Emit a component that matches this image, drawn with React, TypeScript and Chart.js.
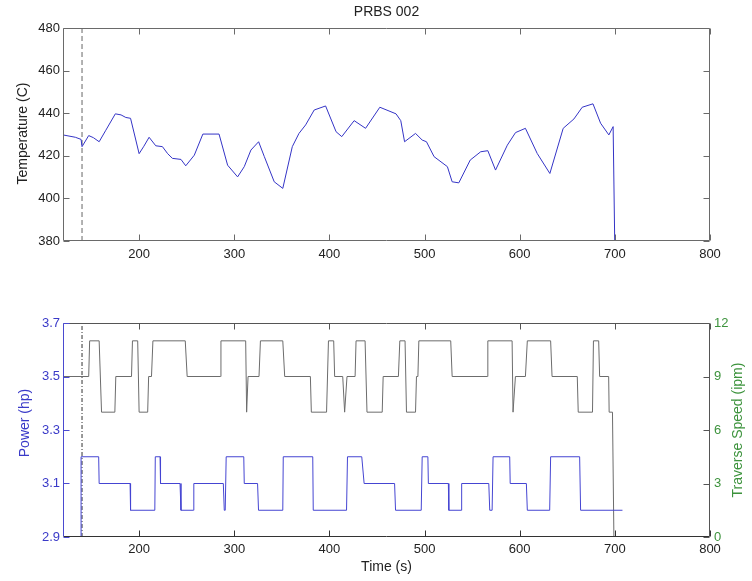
import React, { useEffect, useRef } from 'react';
import Chart from 'chart.js/auto';

// ---------- data ----------
const xTicks = [200, 300, 400, 500, 600, 700, 800];
const tempTicks = [380, 400, 420, 440, 460, 480];
const powerTicks = [2.9, 3.1, 3.3, 3.5, 3.7];
const speedTicks = [0, 3, 6, 9, 12];
const markerTime = 140;

const tempTime = [120, 133, 139, 140, 147, 152, 158, 165, 175, 181, 186, 191, 200, 205, 210.5, 217.5, 224.5, 230, 235, 244, 249, 258, 267, 284, 293, 303.5, 310.5, 317.5, 325.6, 331.6, 342, 351, 361, 368, 375, 384, 396, 407, 413, 426, 438, 453, 470, 475, 479, 490.5, 497.5, 502, 510, 524, 529, 536, 548, 559, 566.5, 574.6, 587, 595.6, 606, 618.4, 631.7, 645.7, 657, 665.7, 677, 685, 693.7, 698.2, 700];
const tempValue = [429.8, 428.7, 427.7, 424.3, 429.5, 428.5, 426.6, 432, 439.7, 439.2, 438, 437.6, 421, 424.5, 428.7, 424.7, 424.3, 421, 418.8, 418.3, 415.3, 420.3, 430.2, 430.2, 415.6, 410.1, 414.9, 422.7, 426.6, 419.6, 407.8, 404.7, 424.3, 430.5, 434.5, 441.5, 443.4, 431.3, 429, 436.5, 432.9, 442.8, 439.7, 436.5, 426.6, 430.5, 427.4, 426.6, 419.6, 414.9, 407.8, 407.3, 418, 421.9, 422.4, 413.3, 425, 430.9, 432.9, 421.1, 411.7, 432.9, 437.3, 442.8, 444.4, 435.3, 429.8, 433.7, 375];

const powerTime = [139, 139, 157.5, 158, 190.5, 191, 216.5, 217, 222, 222.5, 243, 244, 257, 257.5, 288.5, 289.5, 290.5, 291.5, 310, 310.5, 324.5, 325.5, 351, 351.5, 382.5, 383, 418, 419, 434, 436.5, 468.5, 469.5, 496.5, 497.5, 503.5, 504, 525, 525.5, 538.5, 539, 567.5, 568.5, 571, 572, 589.5, 590, 607, 608, 631.5, 632.5, 663, 664, 708];
const powerValue = [2.9, 3.2, 3.2, 3.1, 3.1, 3.0, 3.0, 3.2, 3.2, 3.1, 3.1, 3.0, 3.0, 3.1, 3.1, 3.0, 3.0, 3.2, 3.2, 3.1, 3.1, 3.0, 3.0, 3.2, 3.2, 3.0, 3.0, 3.2, 3.2, 3.1, 3.1, 3.0, 3.0, 3.2, 3.2, 3.1, 3.1, 3.0, 3.0, 3.1, 3.1, 3.0, 3.0, 3.2, 3.2, 3.1, 3.1, 3.0, 3.0, 3.2, 3.2, 3.0, 3.0];

const speedTime = [120, 147, 148, 158, 160.5, 174.5, 175.5, 192, 193, 198.5, 200, 209, 210, 213, 214.5, 248.5, 250.5, 285.5, 286, 312, 313, 314.5, 326, 327.5, 351, 353, 380, 381, 397, 399, 404.5, 405.5, 414, 416, 418.5, 427, 428, 437.5, 439.5, 455.5, 456.5, 472.5, 474, 479.5, 481, 490.5, 491.5, 493, 494, 527.5, 529, 566, 566.5, 592, 593, 594, 595.5, 606, 608, 632.5, 634, 660.5, 661.5, 676.5, 677.5, 683, 684, 693.5, 694, 697.5, 699];
const speedValue = [9, 9, 11, 11, 7, 7, 9, 9, 11, 11, 7, 7, 9, 9, 11, 11, 9, 9, 11, 11, 7, 9, 9, 11, 11, 9, 9, 7, 7, 11, 11, 9, 9, 7, 9, 9, 11, 11, 7, 7, 9, 9, 11, 11, 7, 7, 9, 9, 11, 11, 9, 9, 11, 11, 7, 7, 9, 9, 11, 11, 9, 9, 7, 7, 11, 11, 9, 9, 7, 7, 0];

// ---------- helpers ----------
const FONT = "'Liberation Sans', Arial, Helvetica, sans-serif";
const pts = (xs: number[], ys: number[]) => xs.map((x, i) => ({ x, y: ys[i] }));
const fixTicks = (vals: number[]) => (scale: any) => {
  scale.ticks = vals.map((v) => ({ value: v }));
};

type Side = { scaleId: string; color: string; ticks: boolean };
type VText = { text: string; x: number; dy: number; color: string };
const makeFrame = (
  sides: { top: Side; bottom: Side; left: Side; right: Side },
  title?: string,
  vtexts: VText[] = []
) => ({
  id: 'frame',
  afterDraw(chart: any) {
    const { ctx } = chart;
    const a = chart.chartArea;
    const L = Math.round(a.left) + 0.5;
    const R = Math.round(a.right) - 0.5;
    const T = Math.round(a.top) + 0.5;
    const B = Math.round(a.bottom) - 0.5;
    const tl = 6;
    ctx.save();
    ctx.lineWidth = 1;
    ctx.setLineDash([]);
    const line = (x1: number, y1: number, x2: number, y2: number, c: string) => {
      ctx.strokeStyle = c;
      ctx.beginPath();
      ctx.moveTo(x1, y1);
      ctx.lineTo(x2, y2);
      ctx.stroke();
    };
    line(L, T, R, T, sides.top.color);
    line(L, B, R, B, sides.bottom.color);
    line(L, T, L, B, sides.left.color);
    line(R, T, R, B, sides.right.color);
    const hs = chart.scales[sides.top.scaleId];
    (hs.ticks || []).forEach((t: any) => {
      const x = Math.round(hs.getPixelForValue(t.value)) + 0.5;
      if (sides.top.ticks) line(x, T, x, T + tl, sides.top.color);
      if (sides.bottom.ticks) line(x, B, x, B - tl, sides.bottom.color);
    });
    if (sides.left.ticks) {
      const s = chart.scales[sides.left.scaleId];
      s.ticks.forEach((t: any) => {
        const y = Math.round(s.getPixelForValue(t.value)) + 0.5;
        line(L, y, L + tl, y, sides.left.color);
      });
    }
    if (sides.right.ticks) {
      const s = chart.scales[sides.right.scaleId];
      s.ticks.forEach((t: any) => {
        const y = Math.round(s.getPixelForValue(t.value)) + 0.5;
        line(R, y, R - tl, y, sides.right.color);
      });
    }
    ctx.font = `14px ${FONT}`;
    ctx.textAlign = 'center';
    ctx.textBaseline = 'middle';
    if (title) {
      ctx.fillStyle = '#222';
      ctx.fillText(title, (a.left + a.right) / 2, 12);
    }
    vtexts.forEach((v) => {
      ctx.save();
      ctx.translate(v.x, (a.top + a.bottom) / 2 + v.dy);
      ctx.rotate(-Math.PI / 2);
      ctx.fillStyle = v.color;
      ctx.fillText(v.text, 0, 0);
      ctx.restore();
    });
    ctx.restore();
  },
});

function TopChart() {
  const ref = useRef<HTMLCanvasElement>(null);
  useEffect(() => {
    const frameColor = '#6a6a6a';
    const chart = new Chart(ref.current!, {
      type: 'line',
      data: {
        datasets: [
          {
            data: pts(tempTime, tempValue),
            borderColor: '#3434c6',
            borderWidth: 1,
            pointRadius: 0,
            tension: 0,
          },
          {
            data: [
              { x: markerTime, y: 380 },
              { x: markerTime, y: 480 },
            ],
            borderColor: '#666',
            borderWidth: 1,
            borderDash: [5, 3],
            pointRadius: 0,
          },
        ],
      },
      options: {
        animation: false,
        responsive: false,
        events: [],
        layout: { padding: { left: 0, right: 42, top: 28, bottom: 0 } },
        plugins: { legend: { display: false }, tooltip: { enabled: false } },
        scales: {
          x: {
            type: 'linear',
            min: 120,
            max: 800,
            afterBuildTicks: fixTicks(xTicks),
            afterFit: (s: any) => {
              s.height = 39;
            },
            grid: { display: false, drawTicks: false },
            border: { display: false },
            ticks: { padding: 6, color: '#222', font: { size: 13, family: FONT }, maxRotation: 0, autoSkip: false },
          },
          y: {
            type: 'linear',
            min: 380,
            max: 480,
            afterBuildTicks: fixTicks(tempTicks),
            afterFit: (s: any) => {
              s.width = 63;
            },
            grid: { display: false, drawTicks: false },
            border: { display: false },
            ticks: { padding: 3, color: '#222', font: { size: 13, family: FONT } },
          },
        },
      },
      plugins: [
        makeFrame(
          {
            top: { scaleId: 'x', color: frameColor, ticks: true },
            bottom: { scaleId: 'x', color: frameColor, ticks: true },
            left: { scaleId: 'y', color: frameColor, ticks: true },
            right: { scaleId: 'y', color: frameColor, ticks: true },
          },
          'PRBS 002',
          [{ text: 'Temperature (C)', x: 23, dy: -1, color: '#222' }]
        ),
      ],
    } as any);
    return () => chart.destroy();
  }, []);
  return <canvas ref={ref} width={752} height={280} style={{ position: 'absolute', left: 0, top: 0, width: 752, height: 280 }} />;
}

function BottomChart() {
  const ref = useRef<HTMLCanvasElement>(null);
  useEffect(() => {
    const dark = '#555';
    const blue = '#3a3ac8';
    const green = '#3d933d';
    const chart = new Chart(ref.current!, {
      type: 'line',
      data: {
        datasets: [
          {
            data: pts(powerTime, powerValue),
            yAxisID: 'y',
            borderColor: '#4545d2',
            borderWidth: 1,
            pointRadius: 0,
            tension: 0,
          },
          {
            data: pts(speedTime, speedValue),
            yAxisID: 'y1',
            borderColor: '#6c6c6c',
            borderWidth: 1,
            pointRadius: 0,
            tension: 0,
          },
          {
            data: [
              { x: markerTime, y: 2.9 },
              { x: markerTime, y: 3.7 },
            ],
            yAxisID: 'y',
            borderColor: '#333',
            borderWidth: 1,
            borderDash: [4, 2, 1, 2],
            pointRadius: 0,
          },
        ],
      },
      options: {
        animation: false,
        responsive: false,
        events: [],
        layout: { padding: { left: 0, right: 0, top: 43, bottom: 0 } },
        plugins: { legend: { display: false }, tooltip: { enabled: false } },
        scales: {
          x: {
            type: 'linear',
            min: 120,
            max: 800,
            afterBuildTicks: fixTicks(xTicks),
            afterFit: (s: any) => {
              s.height = 44;
            },
            grid: { display: false, drawTicks: false },
            border: { display: false },
            ticks: { padding: 5, color: '#222', font: { size: 13, family: FONT }, maxRotation: 0, autoSkip: false },
            title: {
              display: true,
              text: 'Time (s)',
              color: '#222',
              font: { size: 14, family: FONT },
              padding: { top: 0, bottom: 5.6 },
            },
          },
          y: {
            type: 'linear',
            position: 'left',
            min: 2.9,
            max: 3.7,
            afterBuildTicks: fixTicks(powerTicks),
            afterFit: (s: any) => {
              s.width = 63;
            },
            grid: { display: false, drawTicks: false },
            border: { display: false },
            ticks: {
              padding: 3,
              color: blue,
              font: { size: 13, family: FONT },
              callback: (v: any) => Number(v).toFixed(1),
            },
          },
          y1: {
            type: 'linear',
            position: 'right',
            min: 0,
            max: 12,
            afterBuildTicks: fixTicks(speedTicks),
            afterFit: (s: any) => {
              s.width = 42;
            },
            grid: { display: false, drawTicks: false },
            border: { display: false },
            ticks: { padding: 4, color: green, font: { size: 13, family: FONT } },
          },
        },
      },
      plugins: [
        makeFrame(
          {
            top: { scaleId: 'x', color: dark, ticks: true },
            bottom: { scaleId: 'x', color: '#333', ticks: true },
            left: { scaleId: 'y', color: '#4a4ad0', ticks: true },
            right: { scaleId: 'y1', color: dark, ticks: true },
          },
          undefined,
          [
            { text: 'Power (hp)', x: 25, dy: -7, color: blue },
            { text: 'Traverse Speed (ipm)', x: 738, dy: 0, color: green },
          ]
        ),
      ],
    } as any);
    return () => chart.destroy();
  }, []);
  return <canvas ref={ref} width={752} height={301} style={{ position: 'absolute', left: 0, top: 280, width: 752, height: 301 }} />;
}

export default function App() {
  return (
    <div style={{ position: 'absolute', left: 0, top: 0, width: 752, height: 581, background: '#fff', overflow: 'hidden' }}>
      <TopChart />
      <BottomChart />
    </div>
  );
}
